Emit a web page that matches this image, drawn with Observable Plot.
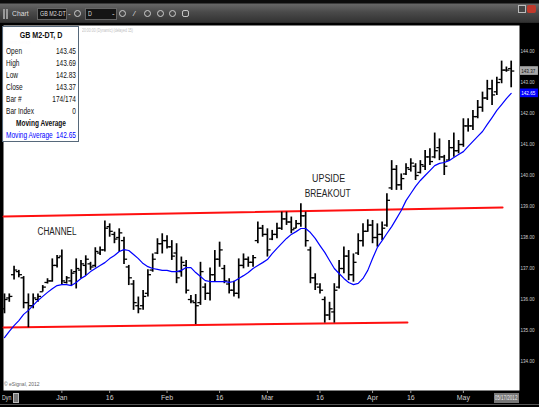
<!DOCTYPE html>
<html><head><meta charset="utf-8">
<script src="https://cdn.jsdelivr.net/npm/d3@7"></script>
<script src="https://cdn.jsdelivr.net/npm/@observablehq/plot@0.6"></script>
<style>
html,body{margin:0;padding:0;background:#000;}
body{width:539px;height:407px;overflow:hidden;font-family:"Liberation Sans",Arial,sans-serif;}
#wrap{position:relative;width:539px;height:407px;background:#000;}
#toolbar{position:absolute;left:0;top:0;width:539px;height:23px;background:linear-gradient(#0c0c0c 0,#0c0c0c 3px,#666 4px,#4a4a4a 12px,#333 22px,#222 23px);}
#toolbar .grip{position:absolute;left:3px;top:9px;width:5px;height:10px;border-left:2px solid #999;border-right:2px solid #999;box-sizing:border-box;}
#toolbar .lbl{position:absolute;top:9px;font-size:8px;color:#ddd;transform:scaleX(0.85);transform-origin:left;}
#toolbar .box{position:absolute;top:8px;height:12px;background:#151515;border:1px solid #666;box-sizing:border-box;font-size:7.5px;color:#ddd;line-height:10px;padding-left:2px;overflow:hidden;white-space:nowrap;}
#toolbar .box span{display:inline-block;transform:scaleX(0.72);transform-origin:left;}
#toolbar .arr{position:absolute;top:9px;font-size:8px;color:#ddd;}
#toolbar .circ{position:absolute;top:10px;width:7px;height:7px;border:1.5px solid #ccc;border-radius:50%;box-sizing:border-box;}
#toolbar .btn{position:absolute;top:5px;width:8px;height:8px;box-sizing:border-box;}
#chart{position:absolute;left:0;top:23px;}
.hdr{position:absolute;font-size:5px;line-height:5px;color:#bdbdbd;white-space:nowrap;transform:scaleX(0.7);transform-origin:left;}
#databox{position:absolute;left:2px;top:26px;width:77px;height:116px;background:rgba(255,255,255,0.92);border:1px solid #56687a;box-sizing:border-box;overflow:hidden;}
#dbin{width:96px;transform:scaleX(0.76);transform-origin:left top;font-size:8.6px;color:#111;padding:3px 0 0 4px;box-sizing:border-box;white-space:nowrap;}
#dbin .t{text-align:center;font-weight:bold;line-height:9px;margin-bottom:6px;font-size:9.4px;}
#dbin .r{display:flex;justify-content:space-between;line-height:12px;}
#dbin .c{text-align:center;font-weight:bold;line-height:12.4px;}
#dbin .b{color:#0000ff;display:flex;justify-content:space-between;line-height:12.4px;}
#copy{position:absolute;left:4px;top:381px;font-size:5px;color:#666;}
#dyn{position:absolute;left:2px;top:394px;font-size:7px;color:#ddd;transform:scaleX(0.75);transform-origin:left;}
#dynbox{position:absolute;left:13px;top:393px;width:6px;height:10px;background:#777;border:1px solid #bbb;box-sizing:border-box;}
#datebox{position:absolute;left:494px;top:393px;width:25px;height:10px;background:#777;color:#eee;font-size:6.3px;line-height:10px;overflow:hidden;white-space:nowrap;}
#datebox span{display:inline-block;transform:scaleX(0.72);transform-origin:left;padding-left:1px;}
#botline{position:absolute;left:0;top:404px;width:539px;height:1px;background:#555;}
</style>
</head><body>
<div id="wrap">
  <div id="toolbar">
    <div class="grip"></div>
    <span class="lbl" style="left:12px">Chart</span>
    <div class="box" style="left:37px;width:30px"><span>GB M2-DT</span></div>
    <span class="arr" style="left:68px">-</span>
    <div class="circ" style="left:74px"></div>
    <div class="box" style="left:85px;width:32px"><span>D</span></div>
    <span class="arr" style="left:112px">-</span>
    <div class="circ" style="left:119px"></div>
    <span class="arr" style="left:133px;font-style:italic">/</span>
    <div class="circ" style="left:144px"></div>
    <div class="circ" style="left:157px"></div>
    <div class="circ" style="left:169px"></div>
    <div class="circ" style="left:182px;border-radius:30%"></div>
    <div class="btn" style="left:518px;border:1px solid #bbb;background:#444"></div>
    <div class="btn" style="left:527px;width:9px;background:#c0392b;border-radius:2px"></div>
  </div>
  <div id="chart"></div>
  <div class="hdr" style="left:4px;top:26px">GB M2-DT,D</div>
  <div class="hdr" style="left:6px;top:39.5px">Moving Average</div>
  <div class="hdr" style="left:82px;top:28px">20:00:00 (Dynamic) (delayed 15)</div>
  <div id="databox"><div id="dbin"></div></div>
  <div id="copy">© eSignal, 2012</div>
  <div id="dyn">Dyn</div>
  <div id="dynbox"></div>
  <div id="datebox"><span></span></div>
  <div id="botline"></div>
</div>
<script>
// ---- data ----
const symbol = "GB M2-DT, D";
const lastDate = "05/17/2012";
const barCountLabel = "174/174";
const barIndexLabel = "0";
const highs = [136.18,136.18,137.07,136.94,136.74,136.18,136.18,136.18,136.45,136.67,
137.31,137.42,137.60,136.74,136.96,137.31,137.26,137.41,137.20,137.67,
137.69,138.53,138.44,138.17,138.28,138.01,137.10,136.61,136.08,136.29,
136.96,137.47,137.96,138.12,138.06,137.90,137.80,137.37,137.26,136.13,
136.16,137.20,136.51,137.02,137.58,137.85,137.10,136.67,136.59,137.31,
137.47,137.37,137.42,138.50,138.39,138.28,138.23,138.46,138.82,138.82,
138.66,138.55,139.09,138.82,137.69,136.83,136.51,136.08,135.91,136.51,
137.26,137.69,137.58,137.47,138.12,138.44,138.57,138.55,138.44,138.50,
139.41,140.48,140.32,140.05,140.38,140.54,140.38,140.48,140.81,140.86,
141.37,141.18,140.65,141.13,141.37,141.13,141.83,141.83,142.10,142.42,
142.69,143.07,143.07,143.17,143.69,143.50,143.69];
const lows = [135.54,135.91,136.63,136.70,135.70,135.09,135.70,135.91,136.24,136.50,
136.56,137.02,136.48,136.50,136.45,136.34,136.67,136.77,136.94,137.02,
137.42,137.53,138.01,137.80,137.53,137.13,136.45,135.65,135.54,135.65,
136.08,136.88,137.45,137.47,137.63,137.26,136.51,136.72,136.18,135.86,
135.19,135.81,135.97,135.95,136.56,137.04,136.51,136.18,136.08,136.02,
136.99,137.04,137.04,137.80,138.01,137.37,137.90,137.96,138.23,138.39,
138.12,138.28,138.33,137.69,136.51,136.29,136.18,135.24,135.32,135.24,
136.34,136.83,136.61,136.56,137.42,137.69,138.17,137.80,137.69,137.90,
138.33,139.52,139.52,139.52,140.00,140.11,139.84,140.05,140.16,140.32,
140.54,140.48,140.00,140.48,140.59,140.70,140.91,141.40,141.45,141.83,
142.04,142.42,142.26,142.58,142.96,143.33,142.83];
const opens = [135.70,136.05,136.80,136.90,136.70,135.90,135.80,136.00,136.25,136.55,
136.60,137.10,137.40,136.55,136.60,136.90,136.95,137.10,137.15,137.10,
137.50,137.60,138.35,138.10,138.00,137.90,137.05,136.50,135.80,135.80,
136.20,136.95,137.50,137.80,137.90,137.70,137.50,136.90,137.10,136.00,
135.90,135.90,136.40,136.20,136.80,137.30,137.00,136.50,136.30,136.20,
137.10,137.30,137.20,137.90,138.30,138.10,137.95,138.10,138.30,138.60,
138.50,138.30,138.45,138.70,137.60,136.70,136.40,136.00,135.50,135.60,
136.40,137.00,137.40,136.80,137.50,137.90,138.20,138.40,138.00,138.10,
138.40,139.60,140.20,139.70,140.05,140.20,140.30,140.10,140.30,140.60,
140.60,140.90,140.60,140.50,140.90,140.80,141.00,141.60,141.60,141.90,
142.20,142.50,142.80,142.70,143.10,143.40,143.45];
const closes = [136.00,136.10,136.95,136.80,135.90,135.80,136.05,136.10,136.40,136.60,
137.10,137.35,136.60,136.70,136.85,137.00,137.15,137.30,137.05,137.55,
137.60,138.30,138.20,137.95,138.15,137.30,136.70,135.90,135.70,136.10,
136.80,137.30,137.80,137.90,137.70,137.40,136.70,137.20,136.30,135.95,
135.80,136.90,136.20,136.80,137.30,137.60,136.60,136.30,136.20,137.10,
137.30,137.20,137.35,138.30,138.10,137.60,138.10,138.30,138.60,138.50,
138.25,138.45,138.70,137.90,136.70,136.50,136.30,135.50,135.70,136.30,
137.00,137.40,136.80,137.20,137.90,138.20,138.40,138.00,138.10,138.30,
139.20,140.20,139.70,139.90,140.25,140.40,140.00,140.35,140.60,140.45,
140.80,140.60,140.30,140.90,140.80,141.00,141.60,141.60,141.90,142.20,
142.50,142.80,142.60,143.00,143.40,143.40,143.37];
const maValues = [134.77,134.97,135.16,135.32,135.52,135.65,135.81,135.97,136.10,136.23,
136.35,136.45,136.48,136.48,136.45,136.55,136.68,136.77,136.90,137.00,
137.10,137.19,137.32,137.42,137.55,137.61,137.58,137.45,137.32,137.16,
137.06,137.00,136.97,136.94,136.94,136.90,136.90,136.94,137.03,137.03,
136.87,136.74,136.61,136.58,136.58,136.58,136.58,136.55,136.58,136.68,
136.77,136.87,137.00,137.10,137.19,137.29,137.48,137.65,137.81,137.97,
138.10,138.19,138.29,138.29,138.16,137.97,137.74,137.52,137.26,137.00,
136.84,136.68,136.55,136.48,136.52,136.68,136.94,137.32,137.68,137.90,
138.13,138.35,138.61,138.87,139.19,139.42,139.65,139.84,140.00,140.16,
140.32,140.39,140.42,140.48,140.58,140.68,140.77,140.94,141.10,141.26,
141.42,141.65,141.87,142.10,142.29,142.48,142.65];
const tickBars = [13,23,35,46,56,67,78,86,97];
const tickLabels = ["Jan","16","Feb","16","Mar","16","Apr","16","May"];
const priceTicks = [134,135,136,137,138,139,140,141,142,143,144];
const upperChannelBars = [0.8, 105.2];
const upperChannelPrices = [138.68, 138.97];
const lowerChannelBars = [0.8, 85.3];
const lowerChannelPrices = [135.10, 135.26];
const noteTexts = ["CHANNEL","UPSIDE","BREAKOUT"];
const noteBars = [12.0, 68.8, 68.6];
const notePrices = [138.17, 139.89, 139.41];

// ---- tables built from the arrays ----
const bars = highs.map((h,k)=>({i:k+1, high:h, low:lows[k], open:opens[k], close:closes[k], ma:maValues[k]}));
const upper = upperChannelBars.map((b,k)=>({i:b, p:upperChannelPrices[k]}));
const lower = lowerChannelBars.map((b,k)=>({i:b, p:lowerChannelPrices[k]}));
const notes = noteTexts.map((t,k)=>({t, i:noteBars[k], p:notePrices[k]}));
const labelMap = new Map(tickBars.map((b,k)=>[b, tickLabels[k]]));
const last = bars[bars.length-1];
const lastTags = [
  {v:last.close, fill:"#a8a8a8", color:"#111"},
  {v:last.ma, fill:"#0000ff", color:"#fff"}
];

const chart = Plot.plot({
  width: 539, height: 384,
  marginTop: 2, marginBottom: 17, marginLeft: 3, marginRight: 20,
  style: {background: "#000", color: "#cfcfcf", fontFamily: '"Liberation Sans",Arial,sans-serif', fontSize: "7px", overflow: "visible"},
  x: {domain: [0.79, 108.74], axis: null},
  y: {domain: [133.065, 144.839], axis: null},
  marks: [
    Plot.frame({fill: "#fff", stroke: null}),
    Plot.line(upper, {x: "i", y: "p", stroke: "#ff1010", strokeWidth: 2}),
    Plot.line(lower, {x: "i", y: "p", stroke: "#ff1010", strokeWidth: 2}),
    Plot.ruleX(bars, {x: "i", y1: "low", y2: "high", stroke: "#000", strokeWidth: 1.7}),
    Plot.link(bars, {x1: d => d.i - 0.65, x2: "i", y1: "open", y2: "open", stroke: "#000", strokeWidth: 1.3}),
    Plot.link(bars, {x1: "i", x2: d => d.i + 0.65, y1: "close", y2: "close", stroke: "#000", strokeWidth: 1.3}),
    Plot.line(bars, {x: "i", y: "ma", stroke: "#0000ff", strokeWidth: 1.2}),
    Plot.text(notes, {x: "i", y: "p", text: "t", fill: "#222", fontSize: 10, className: "note"}),
    Plot.axisY({anchor: "right", ticks: priceTicks, tickFormat: d => d.toFixed(2), tickSize: 0, tickPadding: 1, fill: "#cfcfcf", fontSize: 6, label: null, className: "yax"}),
    Plot.axisX({ticks: tickBars, tickFormat: d => labelMap.get(d), tickSize: 3, tickPadding: 2, stroke: "#999", fill: "#cfcfcf", fontSize: 7, label: null}),
    Plot.rect(lastTags, {x1: () => 108.95, x2: () => 112.7, y1: d => d.v - 0.14, y2: d => d.v + 0.14, fill: d => d.fill}),
    Plot.text(lastTags, {x: () => 109.1, y: "v", text: d => d.v.toFixed(2), fill: d => d.color, fontSize: 6, textAnchor: "start", className: "tag"})
  ]
});
document.getElementById("chart").appendChild(chart);

// condense texts to match the narrow screen font of the original
d3.select(chart).selectAll(".yax text, .tag text").attr("textLength", 14).attr("lengthAdjust", "spacingAndGlyphs");
const noteWidths = {CHANNEL: 39, UPSIDE: 33, BREAKOUT: 46};
d3.select(chart).selectAll(".note text").each(function(){ const w = noteWidths[this.textContent]; if (w) d3.select(this).attr("textLength", w).attr("lengthAdjust", "spacingAndGlyphs"); });

// data box from the last bar
const db = document.getElementById("dbin");
const rows = [["Open", last.open],["High", last.high],["Low", last.low],["Close", last.close]];
db.innerHTML = `<div class="t">${symbol}</div>` +
  rows.map(([k,v]) => `<div class="r"><span>${k}</span><span>${v.toFixed(2)}</span></div>`).join("") +
  `<div class="r"><span>Bar #</span><span>${barCountLabel}</span></div>` +
  `<div class="r"><span>Bar Index</span><span>${barIndexLabel}</span></div>` +
  `<div class="c">Moving Average</div>` +
  `<div class="b"><span>Moving Average</span><span>${last.ma.toFixed(2)}</span></div>`;
document.querySelector("#datebox span").textContent = lastDate;
</script>
</body></html>
